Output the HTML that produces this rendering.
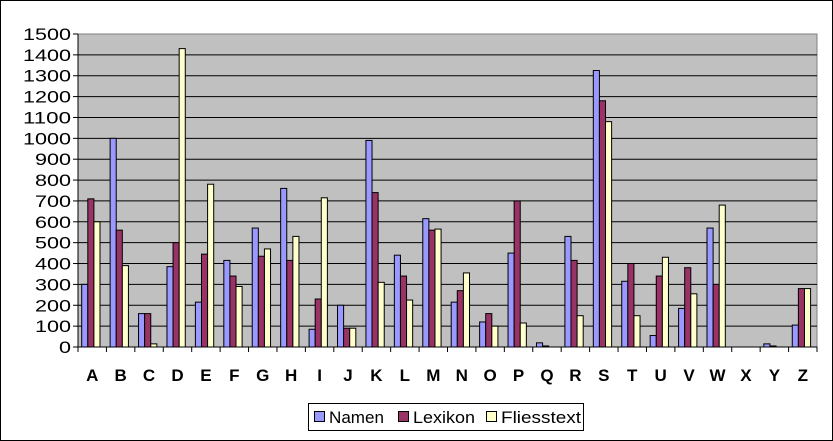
<!DOCTYPE html>
<html><head><meta charset="utf-8"><style>
html,body{margin:0;padding:0;background:#fff}
#wrap{position:relative;width:833px;height:441px;box-sizing:border-box;border:1px solid #000;overflow:hidden}
svg{position:absolute;left:0;top:0}
text{font-family:"Liberation Sans",Arial,sans-serif}
</style></head><body>
<div id="wrap">
<svg id="chart" width="833" height="441"></svg>
</div>
<script>
const categories=["A","B","C","D","E","F","G","H","I","J","K","L","M","N","O","P","Q","R","S","T","U","V","W","X","Y","Z"];
const namen=[300,1000,160,385,215,415,570,760,85,200,990,440,615,215,120,450,20,530,1325,315,55,185,570,0,15,105];
const lexikon=[710,560,160,500,445,340,435,415,230,90,740,340,560,270,160,700,5,415,1180,400,340,380,300,0,5,280];
const fliesstext=[600,390,15,1430,780,290,470,530,715,90,310,225,565,355,100,115,0,150,1080,150,430,255,680,0,0,280];
const yTicks=[0,100,200,300,400,500,600,700,800,900,1000,1100,1200,1300,1400,1500];
const seriesNames=["Namen","Lexikon","Fliesstext"];
const seriesColors=["#9999ff","#993366","#ffffcc"];

const svg=document.getElementById('chart');
const NS="http://www.w3.org/2000/svg";
const L=77,R=816,T=33,B=346;
const yMax=1500;
function y(v){return B-(v/yMax)*(B-T);}
const cw=(R-L)/categories.length;
function x(i){return L+i*cw;}
function mk(tag,attrs){const e=document.createElementNS(NS,tag);for(const k in attrs)e.setAttribute(k,attrs[k]);svg.appendChild(e);return e;}

let e=mk('rect',{x:L,y:T,width:R-L,height:B-T,fill:'#c0c0c0',stroke:'#808080','stroke-width':1});


yTicks.forEach(t=>{
  if(t>0&&t<yMax){const g=mk('line',{x1:L,x2:R,y1:y(t),y2:y(t),stroke:'#000','stroke-width':1});
  
  }
  const tk=mk('line',{x1:L-5,x2:L,y1:y(t),y2:y(t),stroke:'#000'});
  
  
  const s=String(t);
  const lb=mk('text',{x:70,y:y(t)+6,'text-anchor':'end','font-size':16.5,textLength:s.length*12,lengthAdjust:'spacingAndGlyphs'});
  lb.textContent=s;
  
  
});
const data=[namen,lexikon,fliesstext];
const bw=6.1,off=3.7;
categories.forEach((c,i)=>{
  data.forEach((s,k)=>{
    const v=s[i];
    const b=mk('rect',{x:x(i)+off+k*bw,y:y(v),width:bw,height:B-y(v),fill:seriesColors[k],stroke:'#000','stroke-width':1});
    
    
  });
  const tk=mk('line',{x1:x(i),x2:x(i),y1:B,y2:B+5,stroke:'#000'});
  
  
  const lb=mk('text',{x:x(i)+cw/2,y:380,'text-anchor':'middle','font-size':17,'font-weight':'bold'});
  lb.textContent=c;
  
  
});
const tkE=mk('line',{x1:R,x2:R,y1:B,y2:B+5,stroke:'#000'});


const ax=mk('line',{x1:L,x2:R,y1:B,y2:B,stroke:'#000'});


const ay=mk('line',{x1:L,x2:L,y1:T,y2:B,stroke:'#000'});



const lg=mk('rect',{x:307.5,y:402.5,width:275,height:27,fill:'#fff',stroke:'#000'});


const lx=[313,397,485];
const lw=[55,62,80];
seriesNames.forEach((n,k)=>{
  const sw=mk('rect',{x:lx[k]+0.5,y:410.5,width:10,height:10,fill:seriesColors[k],stroke:'#000'});
  
  
  const t=mk('text',{x:lx[k]+15,y:422,'font-size':17,textLength:lw[k],lengthAdjust:'spacingAndGlyphs'});
  t.textContent=n;
  
  
});
</script>
</body></html>
